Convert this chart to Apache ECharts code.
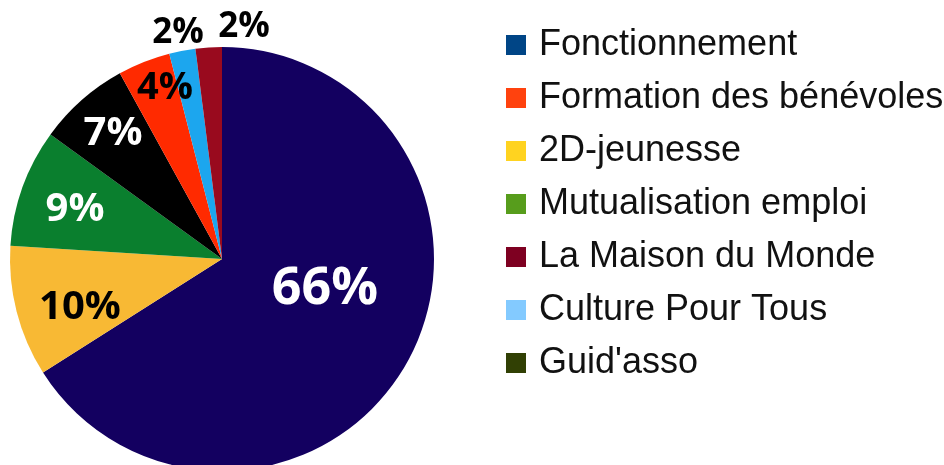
<!DOCTYPE html>
<html>
<head>
<meta charset="utf-8">
<style>
  html, body { margin: 0; padding: 0; background: #fff; }
  #chart { width: 944px; height: 465px; }
</style>
<script src="https://cdn.jsdelivr.net/npm/echarts@6/dist/echarts.min.js"></script>
</head>
<body>
<div id="chart"></div>
<script>
// slices, clockwise from 12 o'clock
const sliceNames = ['Fonctionnement', '2D-jeunesse', 'Mutualisation emploi', "Guid'asso",
  'Formation des bénévoles', 'Culture Pour Tous', 'La Maison du Monde']
const sliceValues = [66, 10, 9, 7, 4, 2, 2]

// legend order as in the picture
const legendNames = ['Fonctionnement', 'Formation des bénévoles', '2D-jeunesse',
  'Mutualisation emploi', 'La Maison du Monde', 'Culture Pour Tous', "Guid'asso"]

// styling
const sliceColors = ['#130060', '#f8b934', '#0a7f2e', '#000000', '#ff2a00', '#1ca6ee', '#990a1e']
const legendColors = {
  'Fonctionnement': '#004586',
  'Formation des bénévoles': '#ff420e',
  '2D-jeunesse': '#ffd320',
  'Mutualisation emploi': '#579d1c',
  'La Maison du Monde': '#7e0021',
  'Culture Pour Tous': '#83caff',
  "Guid'asso": '#314004'
}
const labelColors = ['#fff', '#000', '#fff', '#fff', '#000', '#000', '#000']
const labelSizes = [52, 40, 40, 40, 38, 35, 35]
const labelPos = [[325, 289], [80, 308], [75, 210], [113, 134], [165, 88], [178, 33], [244, 27]]

const chart = echarts.init(document.getElementById('chart'))

const option = {
  animation: false,
  legend: {
    orient: 'vertical',
    left: 506,
    top: 27,
    padding: 0,
    icon: 'rect',
    itemWidth: 20,
    itemHeight: 20,
    itemGap: 17,
    selectedMode: false,
    textStyle: {
      fontFamily: 'Liberation Sans',
      fontSize: 36,
      lineHeight: 35,
      color: '#111',
      padding: [0, 0, 0, 8]
    },
    data: legendNames.map(name => ({
      name: name,
      itemStyle: { color: legendColors[name] }
    }))
  },
  series: [
    {
      type: 'pie',
      center: [222, 259],
      radius: 212,
      startAngle: 90,
      clockwise: true,
      avoidLabelOverlap: false,
      itemStyle: { borderWidth: 0 },
      label: {
        show: true,
        position: 'inside',
        formatter: '{c}%',
        fontFamily: 'Open Sans',
        fontWeight: 'bold'
      },
      labelLine: { show: false },
      labelLayout: function (params) {
        const p = labelPos[params.dataIndex]
        return { x: p[0], y: p[1], align: 'center', verticalAlign: 'middle' }
      },
      emphasis: { disabled: true },
      data: sliceNames.map((name, i) => ({
        name: name,
        value: sliceValues[i],
        itemStyle: { color: sliceColors[i] },
        label: { color: labelColors[i], fontSize: labelSizes[i] }
      }))
    }
  ]
}

chart.setOption(option)
window.addEventListener('resize', () => chart.resize())
</script>
</body>
</html>
